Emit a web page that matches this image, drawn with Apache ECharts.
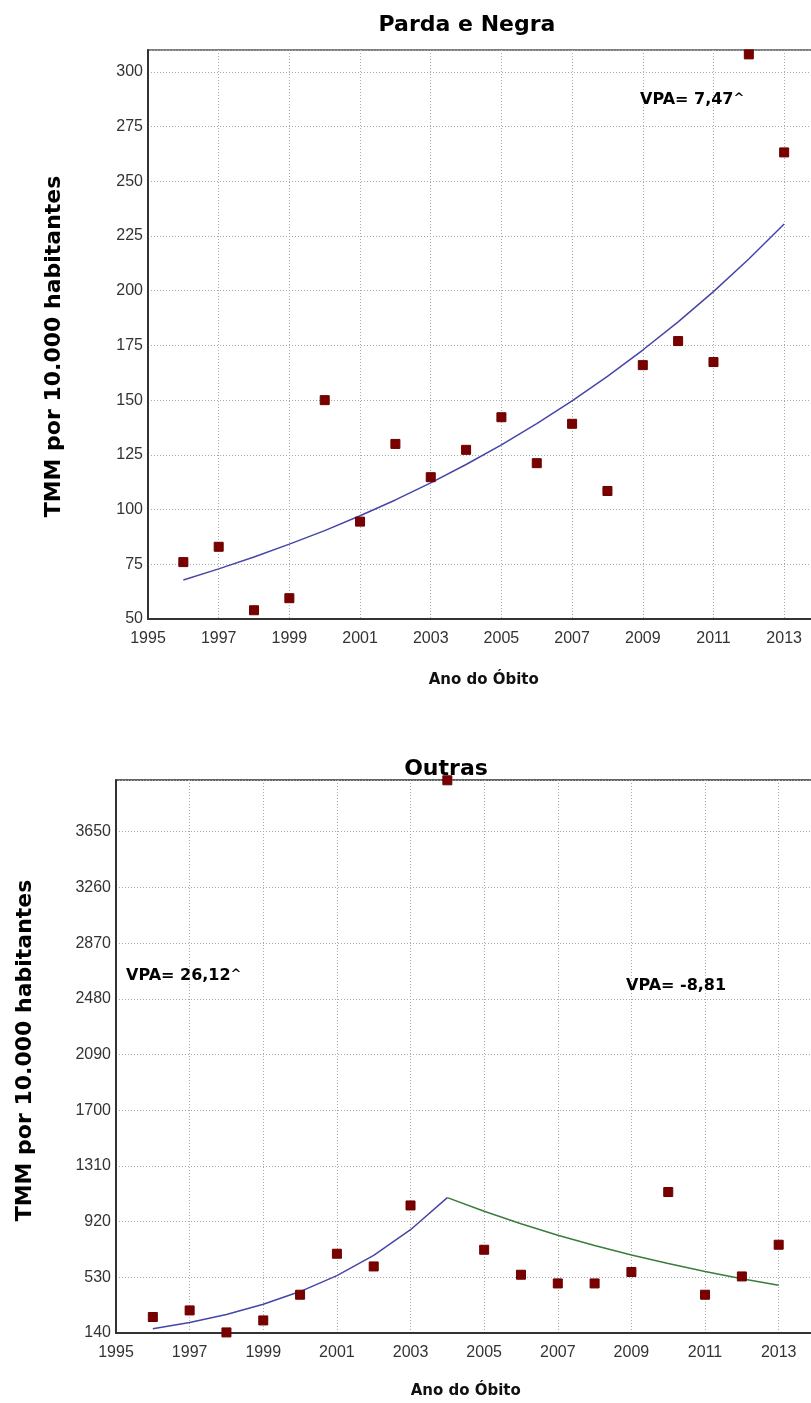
<!DOCTYPE html>
<html>
<head>
<meta charset="utf-8">
<script src="https://cdn.jsdelivr.net/npm/echarts@6/dist/echarts.min.js"></script>
<style>
html,body{margin:0;padding:0;background:#fff;}
#chart{width:811px;height:1403px;}
</style>
</head>
<body>
<div id="chart"></div>
<script>
// ---- data ----
const years = [1996,1997,1998,1999,2000,2001,2002,2003,2004,2005,2006,2007,2008,2009,2010,2011,2012,2013];
const xTicks = [1995,1997,1999,2001,2003,2005,2007,2009,2011,2013];

// Parda e Negra
const pardaValues = [76,83,54,59.5,150,94.5,130,114.8,127.3,142.2,121.2,139.2,108.5,166,177,167.4,308,263.2];
const pardaTrend  = [67.8,72.9,78.3,84.2,90.4,97.2,104.4,112.2,120.6,129.6,139.3,149.7,160.9,172.9,185.8,199.6,214.5,230.5];
const pardaYTicks = [50,75,100,125,150,175,200,225,250,275,300];
const pardaYMax = 310;

// Outras
const outrasValues = [252,298,144,228,408,695,606,1033,4010,723,548,487,487,567,1127,408,536,758];
const outrasTrendUpYears = [1996,1997,1998,1999,2000,2001,2002,2003,2004];
const outrasTrendUp   = [170,214,270,341,430,542,684,863,1088];
const outrasTrendDownYears = [2004,2005,2006,2007,2008,2009,2010,2011,2012,2013];
const outrasTrendDown = [1088,992,905,825,752,686,626,571,520,474];
const outrasYTicks = [140,530,920,1310,1700,2090,2480,2870,3260,3650];
const outrasYMax = 4012;

const titles = ['Parda e Negra','Outras'];
const yName = 'TMM por 10.000 habitantes';
const xName = 'Ano do Óbito';
const vpaLabels = ['VPA= 7,47', 'VPA= 26,12', 'VPA= -8,81'];
const vpaSig = [true, true, false];

// ---- helpers ----
const pair = (xs, ys) => xs.map((x,i)=>[x, ys[i]]);
const tickFmt = list => v => (list.indexOf(v) >= 0 ? String(v) : '');

const tickText = {fontFamily:'Liberation Sans, Arial, sans-serif', fontSize:16, color:'#333'};
const boldFont = 'DejaVu Sans, sans-serif';
const dotted = {color:'#a8a8a8', type:[1,2], width:1};

function xAxisCfg(gridIndex, gap){
  return {
    type:'value', gridIndex, min:xTicks[0], max:2014, interval:xTicks[1]-xTicks[0],
    name:xName, nameLocation:'middle', nameGap:gap,
    nameTextStyle:{fontFamily:boldFont, fontWeight:'bold', fontSize:15, color:'#111'},
    axisLine:{show:true, onZero:false, lineStyle:{color:'#333', width:2}},
    axisTick:{show:false},
    axisLabel:Object.assign({margin:12, showMaxLabel:false, formatter:tickFmt(xTicks)}, tickText),
    splitLine:{show:true, lineStyle:dotted}
  };
}
function yAxisCfg(gridIndex, ticks, max, gap, pad){
  return {
    type:'value', gridIndex, min:ticks[0], max:max, interval:ticks[1]-ticks[0],
    name:yName, nameLocation:'middle', nameGap:gap, nameRotate:90,
    nameTextStyle:{fontFamily:boldFont, fontWeight:'bold', fontSize:22, color:'#000', padding:pad},
    axisLine:{show:true, onZero:false, lineStyle:{color:'#333', width:2}},
    axisTick:{show:false},
    axisLabel:Object.assign({margin:5, showMaxLabel:false, formatter:tickFmt(ticks)}, tickText),
    splitLine:{show:true, lineStyle:dotted}
  };
}

const scatterStyle = {color:'#7a0000', borderColor:'#6a0000', borderWidth:1, opacity:1};

function vpaText(label, sig, x, y){
  return {
    type:'text', left:x, top:y, z:100,
    style:{
      text: label + (sig ? '{s|^}' : ''),
      font:'bold 16px DejaVu Sans',
      fill:'#000',
      rich:{s:{fontSize:13, fontWeight:'bold', fontFamily:'DejaVu Sans', verticalAlign:'top', fill:'#000'}}
    }
  };
}

const option = {
  animation:false,
  backgroundColor:'#fff',
  title:[
    {text:titles[0], left:462, top:9, textAlign:'center',
     textStyle:{fontFamily:boldFont, fontWeight:'bold', fontSize:22, color:'#000'}},
    {text:titles[1], left:441, top:753, textAlign:'center',
     textStyle:{fontFamily:boldFont, fontWeight:'bold', fontSize:22, color:'#000'}}
  ],
  grid:[
    {left:148, top:50, width:671.5, height:569, show:true, borderColor:'#555', borderWidth:1.5,
     backgroundColor:'transparent', outerBoundsMode:'none', containLabel:false},
    {left:116, top:780, width:699.5, height:553, show:true, borderColor:'#333', borderWidth:1.5,
     backgroundColor:'transparent', outerBoundsMode:'none', containLabel:false}
  ],
  xAxis:[xAxisCfg(0, 54), xAxisCfg(1, 51)],
  yAxis:[yAxisCfg(0, pardaYTicks, pardaYMax, 83, [0,24,0,0]), yAxisCfg(1, outrasYTicks, outrasYMax, 80, [0,0,0,12])],
  series:[
    {type:'line', xAxisIndex:0, yAxisIndex:0, data:pair(years, pardaTrend), showSymbol:false, symbol:'none',
     lineStyle:{color:'#4646a8', width:1.5}, z:2},
    {type:'scatter', xAxisIndex:0, yAxisIndex:0, data:pair(years, pardaValues), symbol:'rect', symbolSize:9,
     itemStyle:scatterStyle, z:3},
    {type:'line', xAxisIndex:1, yAxisIndex:1, data:pair(outrasTrendUpYears, outrasTrendUp), showSymbol:false, symbol:'none',
     lineStyle:{color:'#4646a8', width:1.5}, z:2},
    {type:'line', xAxisIndex:1, yAxisIndex:1, data:pair(outrasTrendDownYears, outrasTrendDown), showSymbol:false, symbol:'none',
     lineStyle:{color:'#3a7d3a', width:1.5}, z:2},
    {type:'scatter', xAxisIndex:1, yAxisIndex:1, data:pair(years, outrasValues), symbol:'rect', symbolSize:9,
     itemStyle:scatterStyle, z:3}
  ],
  graphic:[
    vpaText(vpaLabels[0], vpaSig[0], 640, 92),
    vpaText(vpaLabels[1], vpaSig[1], 126, 968),
    vpaText(vpaLabels[2], vpaSig[2], 626, 978)
  ]
};

const chart = echarts.init(document.getElementById('chart'), null, {renderer:'canvas'});
chart.setOption(option);
</script>
</body>
</html>
